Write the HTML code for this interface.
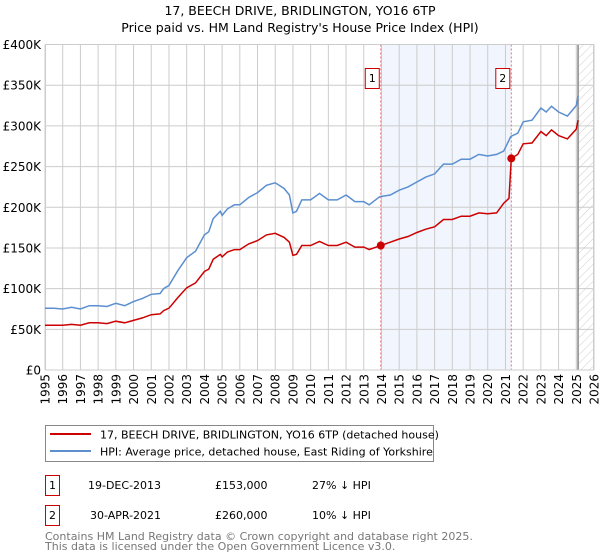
<!DOCTYPE html>
<html><head><meta charset="utf-8"><style>
body{margin:0;background:#fff;font-family:"DejaVu Sans","Liberation Sans",sans-serif;}
svg{display:block}
</style></head><body>
<svg id="c" width="600" height="560" xmlns="http://www.w3.org/2000/svg">
<text x="300" y="15" text-anchor="middle" font-size="12.5">17, BEECH DRIVE, BRIDLINGTON, YO16 6TP</text>
<text x="300" y="32" text-anchor="middle" font-size="12.5">Price paid vs. HM Land Registry's House Price Index (HPI)</text>
<defs><pattern id="hatch" width="6" height="6" patternUnits="userSpaceOnUse" patternTransform="rotate(45)"><line x1="0" y1="0" x2="0" y2="6" stroke="#ccc" stroke-width="1"/></pattern>
<clipPath id="pc"><rect x="45" y="44" width="549" height="326"/></clipPath></defs>
<g id="grid"></g>
<g id="marks" clip-path="url(#pc)"></g>
<g id="axes"></g>
<g>
<rect x="45.5" y="425.5" width="388" height="36" fill="#fff" stroke="#888"/>
<line x1="50" y1="434" x2="91" y2="434" stroke="#cc0000" stroke-width="2"/>
<text x="100" y="438.5" font-size="11">17, BEECH DRIVE, BRIDLINGTON, YO16 6TP (detached house)</text>
<line x1="50" y1="451" x2="91" y2="451" stroke="#5b8fd0" stroke-width="2"/>
<text x="100" y="455.5" font-size="11">HPI: Average price, detached house, East Riding of Yorkshire</text>
</g>
<g font-size="11">
<rect x="45.5" y="475.5" width="14" height="20" fill="#fff" stroke="#cc0000"/>
<text x="52.5" y="489" text-anchor="middle">1</text>
<text x="88" y="489">19-DEC-2013</text><text x="215" y="489">£153,000</text><text x="312" y="489">27% ↓ HPI</text>
<rect x="45.5" y="505.5" width="14" height="20" fill="#fff" stroke="#cc0000"/>
<text x="52.5" y="519" text-anchor="middle">2</text>
<text x="90" y="519">30-APR-2021</text><text x="215" y="519">£260,000</text><text x="312" y="519">10% ↓ HPI</text>
</g>
<text x="45" y="540" font-size="11" fill="#777">Contains HM Land Registry data © Crown copyright and database right 2025.</text>
<text x="45" y="550" font-size="11" fill="#777">This data is licensed under the Open Government Licence v3.0.</text>
</svg>
<script>
const hpiYears=[1995,1995.5,1996,1996.5,1997,1997.5,1998,1998.5,1999,1999.5,2000,2000.5,2001,2001.5,2001.7,2002,2002.5,2003,2003.5,2004,2004.25,2004.5,2004.9,2005,2005.3,2005.7,2006,2006.5,2007,2007.5,2008,2008.5,2008.8,2009,2009.2,2009.5,2010,2010.5,2011,2011.5,2012,2012.5,2013,2013.3,2013.9,2014.5,2015,2015.5,2016,2016.5,2017,2017.5,2018,2018.5,2019,2019.5,2020,2020.5,2020.9,2021.3,2021.7,2022,2022.5,2023,2023.3,2023.6,2024,2024.5,2025,2025.1];
const hpiValues=[76,76,75,77,75,79,79,78,82,79,84,88,93,94,100,104,122,138,146,166,170,186,195,190,198,203,203,212,218,227,230,223,215,193,195,209,209,217,209,209,215,207,207,203,213,215,221,225,231,237,241,253,253,259,259,265,263,265,269,287,291,305,307,322,317,324,317,312,325,337];
const redYears=[1995,1995.5,1996,1996.5,1997,1997.5,1998,1998.5,1999,1999.5,2000,2000.5,2001,2001.5,2001.7,2002,2002.5,2003,2003.5,2004,2004.25,2004.5,2004.9,2005,2005.3,2005.7,2006,2006.5,2007,2007.5,2008,2008.5,2008.8,2009,2009.2,2009.5,2010,2010.5,2011,2011.5,2012,2012.5,2013,2013.3,2013.96,2014.5,2015,2015.5,2016,2016.5,2017,2017.5,2018,2018.5,2019,2019.5,2020,2020.5,2020.9,2021.2,2021.33,2021.7,2022,2022.5,2023,2023.3,2023.6,2024,2024.5,2025,2025.1];
const redValues=[55,55,55,56,55,58,58,57,60,58,61,64,68,69,73,76,89,101,107,121,124,136,142,139,145,148,148,155,159,166,168,163,157,141,142,153,153,158,153,153,157,151,151,148,153,157,161,164,169,173,176,185,185,189,189,193,192,193,205,211,260,265,278,279,293,288,295,288,284,296,307];
const saleYears=[2013.96,2021.33];
const saleValues=[153,260];
const saleLabels=['1','2'];
const yTicks=[0,50,100,150,200,250,300,350,400];
const yTickLabels=['£0','£50K','£100K','£150K','£200K','£250K','£300K','£350K','£400K'];
const xTicks=[1995,1996,1997,1998,1999,2000,2001,2002,2003,2004,2005,2006,2007,2008,2009,2010,2011,2012,2013,2014,2015,2016,2017,2018,2019,2020,2021,2022,2023,2024,2025,2026];
const forecastStart=2025.1;

const NS='http://www.w3.org/2000/svg';
const X0=45,X1=594,Y0=370,Y1=44.5;
const xs=y=>X0+(y-1995)/(2026-1995)*(X1-X0);
const ys=v=>Y0-v/400*(Y0-Y1);
function mk(tag,attrs,parent){const e=document.createElementNS(NS,tag);for(const k in attrs)e.setAttribute(k,attrs[k]);parent.appendChild(e);return e;}
const grid=document.getElementById('grid'),marks=document.getElementById('marks'),axes=document.getElementById('axes');
// shaded region
let sh=mk('rect',{x:xs(saleYears[0]),y:Y1,width:xs(saleYears[1])-xs(saleYears[0]),height:Y0-Y1,fill:'#eef3fc',opacity:0.8},grid);


let hz=mk('rect',{x:xs(forecastStart),y:Y1,width:X1-xs(forecastStart),height:Y0-Y1,fill:'url(#hatch)'},grid);


yTicks.forEach((t,i)=>{
  let l=mk('line',{x1:X0,x2:X1,y1:ys(t),y2:ys(t),stroke:'#ccc'},grid);
  
  
  let tx=mk('text',{x:41,y:ys(t)+4.5,'text-anchor':'end','font-size':12},axes);tx.textContent=yTickLabels[i];
  
  
});
xTicks.forEach(t=>{
  let l=mk('line',{x1:xs(t),x2:xs(t),y1:Y1,y2:Y0,stroke:'#ccc'},grid);
  
  
  let tx=mk('text',{x:0,y:0,'text-anchor':'end','font-size':12,transform:`translate(${xs(t)+4.5},374) rotate(-90)`},axes);tx.textContent=t;
  
  
});
let fl=mk('line',{x1:xs(forecastStart),x2:xs(forecastStart),y1:Y1,y2:Y0,stroke:'#888','stroke-width':1.5},grid);


saleYears.forEach((y,i)=>{
  let l=mk('line',{x1:xs(y),x2:xs(y),y1:Y1,y2:Y0,stroke:'#f07070','stroke-dasharray':'2,2'},grid);
  
  
  let b=mk('rect',{x:xs(y)-15.5,y:68.5,width:14,height:20,fill:'#fff',stroke:'#cc0000'},axes);
  
  
  let tx=mk('text',{x:xs(y)-8.5,y:82,'text-anchor':'middle','font-size':11},axes);tx.textContent=saleLabels[i];
  
  
});
mk('rect',{x:X0+0.5,y:Y1,width:X1-X0-1,height:Y0-Y1,fill:'none',stroke:'#ccc'},grid);
const path=(yr,v)=>yr.map((y,i)=>(i?'L':'M')+xs(y).toFixed(1)+','+ys(v[i]).toFixed(1)).join('');
let hp=mk('path',{d:path(hpiYears,hpiValues),fill:'none',stroke:'#5b8fd0','stroke-width':1.5},marks);


let rp=mk('path',{d:path(redYears,redValues),fill:'none',stroke:'#cc0000','stroke-width':1.5},marks);


saleYears.forEach((y,i)=>{
  let c=mk('circle',{cx:xs(y),cy:ys(saleValues[i]),r:4,fill:'#cc0000'},marks);
  
  
});
</script>
</body></html>
